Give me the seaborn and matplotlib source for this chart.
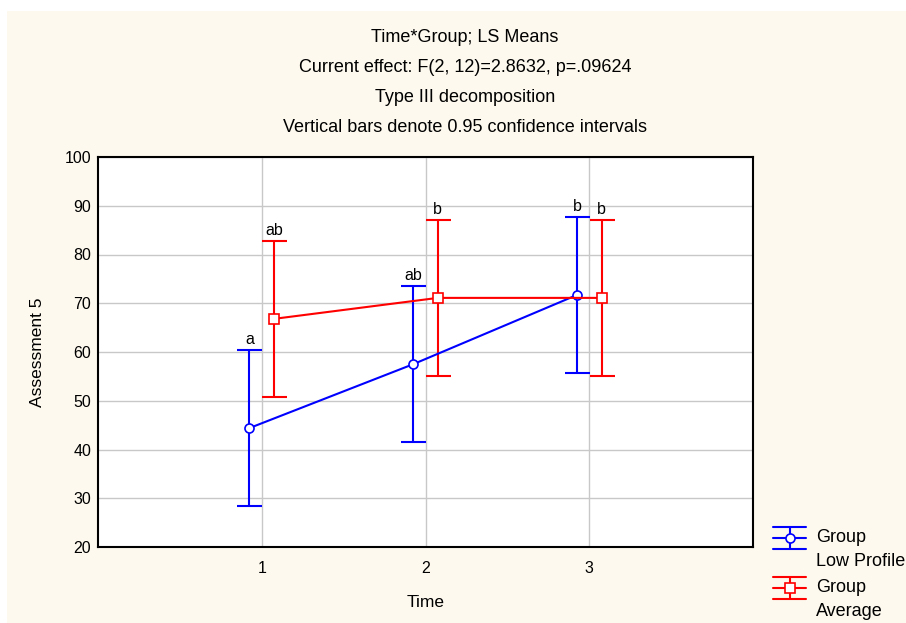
import numpy as np
import pandas as pd
import matplotlib
matplotlib.use("Agg")
import matplotlib.pyplot as plt
from matplotlib.lines import Line2D
from matplotlib.patches import Rectangle
import seaborn as sns

# ---- data ----
times = [1, 2, 3]
groups = ["Low Profile", "Average"]
low_mean = [44.4, 57.5, 71.7]
low_lo = [28.4, 41.5, 55.7]
low_hi = [60.4, 73.5, 87.7]
avg_mean = [66.8, 71.1, 71.1]
avg_lo = [50.8, 55.1, 55.1]
avg_hi = [82.8, 87.1, 87.1]
low_letters = ["a", "ab", "b"]
avg_letters = ["ab", "b", "b"]
title_lines = ["Time*Group; LS Means",
               "Current effect: F(2, 12)=2.8632, p=.09624",
               "Type III decomposition",
               "Vertical bars denote 0.95 confidence intervals"]
y_ticks = [20, 30, 40, 50, 60, 70, 80, 90, 100]

sns.set_theme(style="white")
plt.rcParams['font.family'] = ['Liberation Sans', 'DejaVu Sans']
plt.rcParams['text.color'] = 'black'
plt.rcParams['axes.labelcolor'] = 'black'

BG = "#FDF9EE"
BLUE = "#0000FF"
RED = "#FF0000"

fig = plt.figure(figsize=(9.06, 6.23), dpi=100)
fig.patch.set_facecolor("white")
fig.add_artist(Rectangle((7/906, 0), 1, 1 - 11/623, transform=fig.transFigure,
                         facecolor=BG, edgecolor="none", zorder=-10))

ax = fig.add_axes([98/906, 76/623, (753-98)/906, (547-157)/623])
ax.set_facecolor("white")

offset = 0.075
df = pd.DataFrame({
    "Time": times * 2,
    "Group": [groups[0]] * 3 + [groups[1]] * 3,
    "mean": low_mean + avg_mean,
    "lo": low_lo + avg_lo,
    "hi": low_hi + avg_hi,
    "letter": low_letters + avg_letters,
})
df["x"] = df["Time"] + np.where(df["Group"] == groups[0], -offset, offset)

palette = {groups[0]: BLUE, groups[1]: RED}
markers = {groups[0]: "o", groups[1]: "s"}

for g, sub in df.groupby("Group", sort=False):
    c = palette[g]
    ax.errorbar(sub["x"], sub["mean"],
                yerr=[sub["mean"] - sub["lo"], sub["hi"] - sub["mean"]],
                fmt="none", ecolor=c, elinewidth=1.5, capsize=9, capthick=1.5, zorder=3)
    for _, r in sub.iterrows():
        ax.text(r["x"], r["hi"] + 0.6, r["letter"], ha="center", va="bottom",
                fontsize=11.5, color="black")
    sns.lineplot(data=sub, x="x", y="mean", color=c, marker=markers[g], ax=ax,
                 linewidth=1.5, markersize=6.5, markerfacecolor="white",
                 markeredgecolor=c, markeredgewidth=1.2, legend=False, zorder=4,
                 sort=True)

ax.set_xlim(0, 4)
ax.set_ylim(20, 100)
ax.set_xticks(times)
ax.set_yticks(y_ticks)
ax.grid(True, color="#C8C8C8", linewidth=1)
ax.tick_params(axis="both", direction="in", length=4, width=1, colors="black",
               labelsize=11.5, pad=5)
ax.tick_params(axis="x", pad=10)
for s in ax.spines.values():
    s.set_color("black")
    s.set_linewidth(1.5)
ax.set_xlabel("Time", fontsize=12.5, labelpad=14, color="black")
ax.set_ylabel("Assessment 5", fontsize=12.5, labelpad=14, color="black")

ys = [37, 68, 97, 127]
for t, y in zip(title_lines, ys):
    fig.text(465/906, 1 - y/623, t, ha="center", va="center", fontsize=13, color="black")

# custom legend
def leg_handle(yc, color, marker):
    x0, x1 = 773/906, 806/906
    xm = (x0 + x1) / 2
    dy = 11/623
    yc_f = 1 - yc/623
    for yy in (yc_f - dy, yc_f, yc_f + dy):
        fig.add_artist(Line2D([x0, x1], [yy, yy], transform=fig.transFigure,
                              color=color, lw=1.5))
    fig.add_artist(Line2D([xm, xm], [yc_f - dy, yc_f + dy], transform=fig.transFigure,
                          color=color, lw=1.5))
    fig.add_artist(Line2D([xm], [yc_f], transform=fig.transFigure, color=color,
                          marker=marker, markersize=6.5, markerfacecolor="white",
                          markeredgewidth=1.2, lw=0))

leg_handle(538, BLUE, "o")
leg_handle(588, RED, "s")
for txt, y in [("Group", 538), ("Low Profile", 562), ("Group", 588), ("Average", 611)]:
    fig.text(816/906, 1 - y/623, txt, va="center", ha="left", fontsize=13, color="black")

fig.savefig("out.png", dpi=100, facecolor=fig.get_facecolor())
